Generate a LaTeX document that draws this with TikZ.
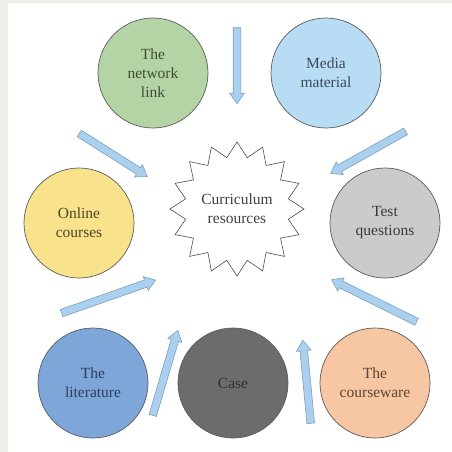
\documentclass[tikz,border=0pt]{standalone}
\usepackage{fontspec}
\setmainfont{Liberation Serif}
\usetikzlibrary{shapes.geometric,shapes.arrows,calc}

\definecolor{pagegray}{HTML}{F1EEE9}
\definecolor{rimgray}{HTML}{5A5A5A}
\definecolor{arrowfill}{HTML}{ABD0EE}
\definecolor{arrowrim}{HTML}{7C9EC2}
\definecolor{netfill}{HTML}{B5D4A6}   \definecolor{nettext}{HTML}{3D4D35}
\definecolor{mediafill}{HTML}{B8DCF4} \definecolor{mediatext}{HTML}{3C4A58}
\definecolor{onfill}{HTML}{F8E38C}    \definecolor{ontext}{HTML}{4D4526}
\definecolor{testfill}{HTML}{CBCBCB}  \definecolor{testtext}{HTML}{3A3A3A}
\definecolor{litfill}{HTML}{7EA6D9}   \definecolor{littext}{HTML}{2C3E5C}
\definecolor{casefill}{HTML}{6C6C6C}  \definecolor{casetext}{HTML}{2F2F2F}
\definecolor{cwfill}{HTML}{F7C7A3}    \definecolor{cwtext}{HTML}{5A4536}

\tikzset{
  res/.style={circle,draw=rimgray,line width=.7pt,minimum size=110pt,inner sep=0pt,
    align=center,font=\fontsize{15.5}{19}\selectfont},
  blockarrow/.style={single arrow,draw=arrowrim,fill=arrowfill,line width=.6pt,
    inner xsep=0pt,inner ysep=3.5pt,single arrow head extend=3.5pt,
    single arrow tip angle=70,single arrow head indent=0pt}
}

\begin{document}
\begin{tikzpicture}[x=1pt,y=-1pt]

        % page
        \fill[pagegray] (0,0) rectangle (452,452);
        \fill[white] (8,3) rectangle (452,452);
        \useasboundingbox (0,0) rectangle (452,452);

        % centre
        \node[star,star points=16,star point ratio=1.28,draw=black!70,line width=.6pt,
          minimum size=134pt,inner sep=0pt,align=center,
          font=\fontsize{15.5}{19}\selectfont,text=black!75] (0) at (237,209)
          {Curriculum\\resources};

        % resources
        \begin{scope}[every node/.style={res}]
          \node[fill=netfill,text=nettext]     (1) at (153,73)  {The\\network\\link};
          \node[fill=mediafill,text=mediatext] (2) at (326,73)  {Media\\material};
          \node[fill=onfill,text=ontext]       (3) at (79,223)  {Online\\courses};
          \node[fill=testfill,text=testtext]   (4) at (385,223) {Test\\questions};
          \node[fill=litfill,text=littext]     (5) at (93,383)  {The\\literature};
          \node[fill=casefill,text=casetext]   (6) at (233,383) {Case};
          \node[fill=cwfill,text=cwtext]       (7) at (375,383) {The\\courseware};
        \end{scope}

        % arrow ends
        \coordinate (t1) at (237,25);  \coordinate (h1) at (237,101);
        \coordinate (t2) at (77,132);  \coordinate (h2) at (145,175);
        \coordinate (t3) at (408,130); \coordinate (h3) at (333,172);
        \coordinate (t4) at (59,314);  \coordinate (h4) at (153,281);
        \coordinate (t5) at (152,418); \coordinate (h5) at (177,333);
        \coordinate (t6) at (311,426); \coordinate (h6) at (303,343);
        \coordinate (t7) at (419,323); \coordinate (h7) at (334,281);

        \foreach \t/\h in {t1/h1,t2/h2,t3/h3,t4/h4,t5/h5,t6/h6,t7/h7}
          \path let \p1=($(\h)-(\t)$), \n1={veclen(\x1,\y1)} in
            (\t) -- (\h) node[blockarrow,midway,sloped,allow upside down,minimum height=\n1] {};

      \end{tikzpicture}
\end{document}
